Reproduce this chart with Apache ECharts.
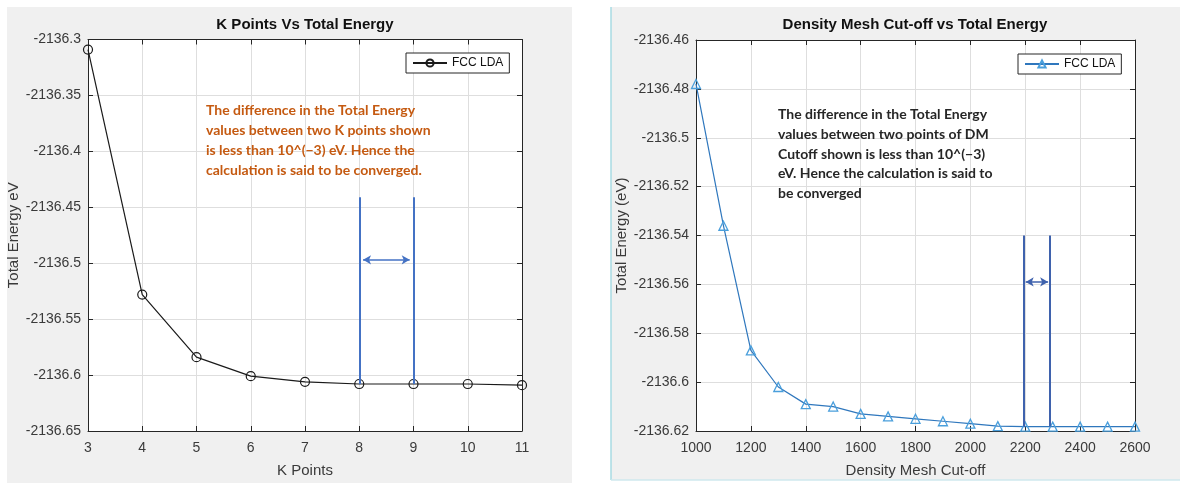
<!DOCTYPE html>
<html><head><meta charset="utf-8">
<script src="https://cdn.jsdelivr.net/npm/echarts@6/dist/echarts.min.js"></script>
<style>html,body{margin:0;padding:0;background:#fff;}#c{width:1188px;height:483px;}</style>
</head><body><div id="c"></div>
<script>
// ---- Left chart data: K points vs total energy ----
const kPoints = [3, 4, 5, 6, 7, 8, 9, 10, 11];
const kEnergy = [-2136.309, -2136.528, -2136.584, -2136.601, -2136.606, -2136.608, -2136.608, -2136.608, -2136.609];
const kAxisX = [3, 11, 1];                 // min, max, step
const kAxisY = [-2136.65, -2136.3, 0.05];  // min, max, step
const kMarkX = [8, 9];
const kMarkY = [-2136.441, -2136.608];     // top, bottom of marker lines
const kArrowY = -2136.497;
const kTitle = 'K Points Vs Total Energy';
const kXName = 'K Points';
const kYName = 'Total Energy eV';
const kNote = ['The difference in the Total Energy', 'values between two K points shown', 'is less than 10^(\u22123) eV. Hence the', 'calculation is said to be converged.'];

// ---- Right chart data: density mesh cut-off vs total energy ----
const dmCutoff = [1000, 1100, 1200, 1300, 1400, 1500, 1600, 1700, 1800, 1900, 2000, 2100, 2200, 2300, 2400, 2500, 2600];
const dmEnergy = [-2136.478, -2136.536, -2136.587, -2136.602, -2136.609, -2136.610, -2136.613, -2136.614, -2136.615, -2136.616, -2136.617, -2136.618, -2136.6182, -2136.6182, -2136.6182, -2136.6182, -2136.6182];
const dmAxisX = [1000, 2600, 200];
const dmAxisY = [-2136.62, -2136.46, 0.02];
const dmMarkX = [2195, 2290];
const dmMarkY = [-2136.54, -2136.6182];
const dmArrowY = -2136.559;
const dmTitle = 'Density Mesh Cut-off vs Total Energy';
const dmXName = 'Density Mesh Cut-off';
const dmYName = 'Total Energy (eV)';
const dmNote = ['The difference in the Total Energy', 'values between two points of DM', 'Cutoff shown is less than 10^(\u22123)', 'eV. Hence the calculation is said to', 'be converged'];

const legendName = 'FCC LDA';

const AX = '#262626';
const GRID = '#dedede';
const LBL = '#3a3a3a';
const FONT = 'Liberation Sans, Arial, sans-serif';
const fmtY = v => String(+(+v).toFixed(3));
const fmtX = v => String(+(+v).toFixed(2));

function mkX(grid, ax, name, pos) {
  const main = pos === 'bottom';
  return {
    gridIndex: grid, type: 'value', min: ax[0], max: ax[1], interval: ax[2], position: pos,
    axisLine: { show: true, onZero: false, lineStyle: { color: AX, width: 1 } },
    axisTick: { show: true, inside: true, length: 5, lineStyle: { color: AX } },
    axisLabel: { show: main, color: LBL, fontSize: 14, margin: 10, fontFamily: FONT, formatter: fmtX },
    splitLine: { show: main, lineStyle: { color: GRID, width: 1 } },
    name: main ? name : '', nameLocation: 'middle', nameGap: 32,
    nameTextStyle: { color: LBL, fontSize: 15, fontFamily: FONT }
  };
}
function mkY(grid, ax, name, pos, gap) {
  const main = pos === 'left';
  return {
    gridIndex: grid, type: 'value', min: ax[0], max: ax[1], interval: ax[2], position: pos,
    axisLine: { show: true, onZero: false, lineStyle: { color: AX, width: 1 } },
    axisTick: { show: true, inside: true, length: 5, lineStyle: { color: AX } },
    axisLabel: { show: main, color: LBL, fontSize: 14, margin: 7, fontFamily: FONT, formatter: fmtY },
    splitLine: { show: main, lineStyle: { color: GRID, width: 1 } },
    name: main ? name : '', nameLocation: 'middle', nameGap: gap,
    nameTextStyle: { color: LBL, fontSize: 15, fontFamily: FONT }
  };
}
function markLines(xs, ys, arrowY, color) {
  const d = xs.map(x => [
    { coord: [x, ys[0]], symbol: 'none' },
    { coord: [x, ys[1]], symbol: 'none' }
  ]);
  const span = xs[1] - xs[0];
  d.push([
    { coord: [xs[0] + span * 0.07, arrowY], symbol: 'arrow', symbolSize: [7, 8], lineStyle: { width: 1.5 } },
    { coord: [xs[1] - span * 0.07, arrowY], symbol: 'arrow', symbolSize: [7, 8], lineStyle: { width: 1.5 } }
  ]);
  return {
    silent: true, animation: false, symbol: ['none', 'none'],
    label: { show: false },
    lineStyle: { color: color, width: 2, type: 'solid' },
    emphasis: { disabled: true },
    data: d
  };
}

const chart = echarts.init(document.getElementById('c'), null, { renderer: 'canvas' });
const option = {
  animation: false,
  backgroundColor: '#ffffff',
  graphic: [
    { type: 'rect', z: -10, shape: { x: 7, y: 7, width: 565, height: 476 }, style: { fill: '#f0f0f0' } },
    { type: 'rect', z: -10, shape: { x: 611, y: 7, width: 569, height: 473 }, style: { fill: '#f0f0f0' } },
    { type: 'line', z: -9, shape: { x1: 611, y1: 7, x2: 611, y2: 480 }, style: { stroke: '#a9dbe3', lineWidth: 1.5 } },
    { type: 'line', z: -9, shape: { x1: 611, y1: 480, x2: 1180, y2: 480 }, style: { stroke: '#cfe9ee', lineWidth: 1.5 } },
    { type: 'text', z: 10, style: { text: kTitle, x: 305, y: 25, align: 'center', verticalAlign: 'middle', fill: '#111', font: 'bold 15px ' + FONT } },
    { type: 'text', z: 10, style: { text: dmTitle, x: 915, y: 25, align: 'center', verticalAlign: 'middle', fill: '#111', font: 'bold 15px ' + FONT } },
    { type: 'text', z: 10, style: { text: kNote.join('\n'), x: 206, y: 100, align: 'left', verticalAlign: 'top', fill: '#c55a11', font: 'bold 14px Lato, sans-serif', lineHeight: 20 } },
    { type: 'text', z: 10, style: { text: dmNote.join('\n'), x: 778, y: 105, align: 'left', verticalAlign: 'top', fill: '#262626', font: 'bold 14px Lato, sans-serif', lineHeight: 19.6 } }
  ],
  grid: [
    { left: 88, top: 39.5, width: 434, height: 396, show: true, backgroundColor: '#fff', borderWidth: 0 },
    { left: 696, top: 40, width: 439, height: 392, show: true, backgroundColor: '#fff', borderWidth: 0 }
  ],
  xAxis: [
    mkX(0, kAxisX, kXName, 'bottom'), mkX(0, kAxisX, '', 'top'),
    mkX(1, dmAxisX, dmXName, 'bottom'), mkX(1, dmAxisX, '', 'top')
  ],
  yAxis: [
    mkY(0, kAxisY, kYName, 'left', 67), mkY(0, kAxisY, '', 'right', 0),
    mkY(1, dmAxisY, dmYName, 'left', 64), mkY(1, dmAxisY, '', 'right', 0)
  ],
  legend: [
    { left: 406, top: 53, padding: [4, 6], itemWidth: 34, itemHeight: 9, itemGap: 0,
      backgroundColor: '#fff', borderColor: AX, borderWidth: 1, borderRadius: 0,
      data: ['k'], formatter: () => legendName, selectedMode: false,
      textStyle: { color: '#111', fontSize: 12, fontFamily: FONT } },
    { left: 1018, top: 54, padding: [4, 6], itemWidth: 34, itemHeight: 9, itemGap: 0,
      backgroundColor: '#fff', borderColor: AX, borderWidth: 1, borderRadius: 0,
      data: ['dm'], formatter: () => legendName, selectedMode: false,
      textStyle: { color: '#111', fontSize: 12, fontFamily: FONT } }
  ],
  series: [
    {
      name: 'k', type: 'line', xAxisIndex: 0, yAxisIndex: 0, clip: false,
      data: kPoints.map((x, i) => [x, kEnergy[i]]),
      symbol: 'circle', symbolSize: 9, showAllSymbol: true,
      itemStyle: { color: 'rgba(255,255,255,0)', borderColor: '#1a1a1a', borderWidth: 1.2 },
      lineStyle: { color: '#1a1a1a', width: 1.2 },
      emphasis: { disabled: true },
      markLine: markLines(kMarkX, kMarkY, kArrowY, '#4472c4'),
      z: 3
    },
    {
      name: 'dm', type: 'line', xAxisIndex: 2, yAxisIndex: 2, clip: false,
      data: dmCutoff.map((x, i) => [x, dmEnergy[i]]),
      symbol: 'triangle', symbolSize: 9, showAllSymbol: true,
      itemStyle: { color: 'rgba(255,255,255,0)', borderColor: '#4a9fdc', borderWidth: 1.3 },
      lineStyle: { color: '#2f77bd', width: 1.2 },
      emphasis: { disabled: true },
      markLine: markLines(dmMarkX, dmMarkY, dmArrowY, '#3f62ad'),
      z: 3
    }
  ]
};
chart.setOption(option);
</script>
</body></html>
